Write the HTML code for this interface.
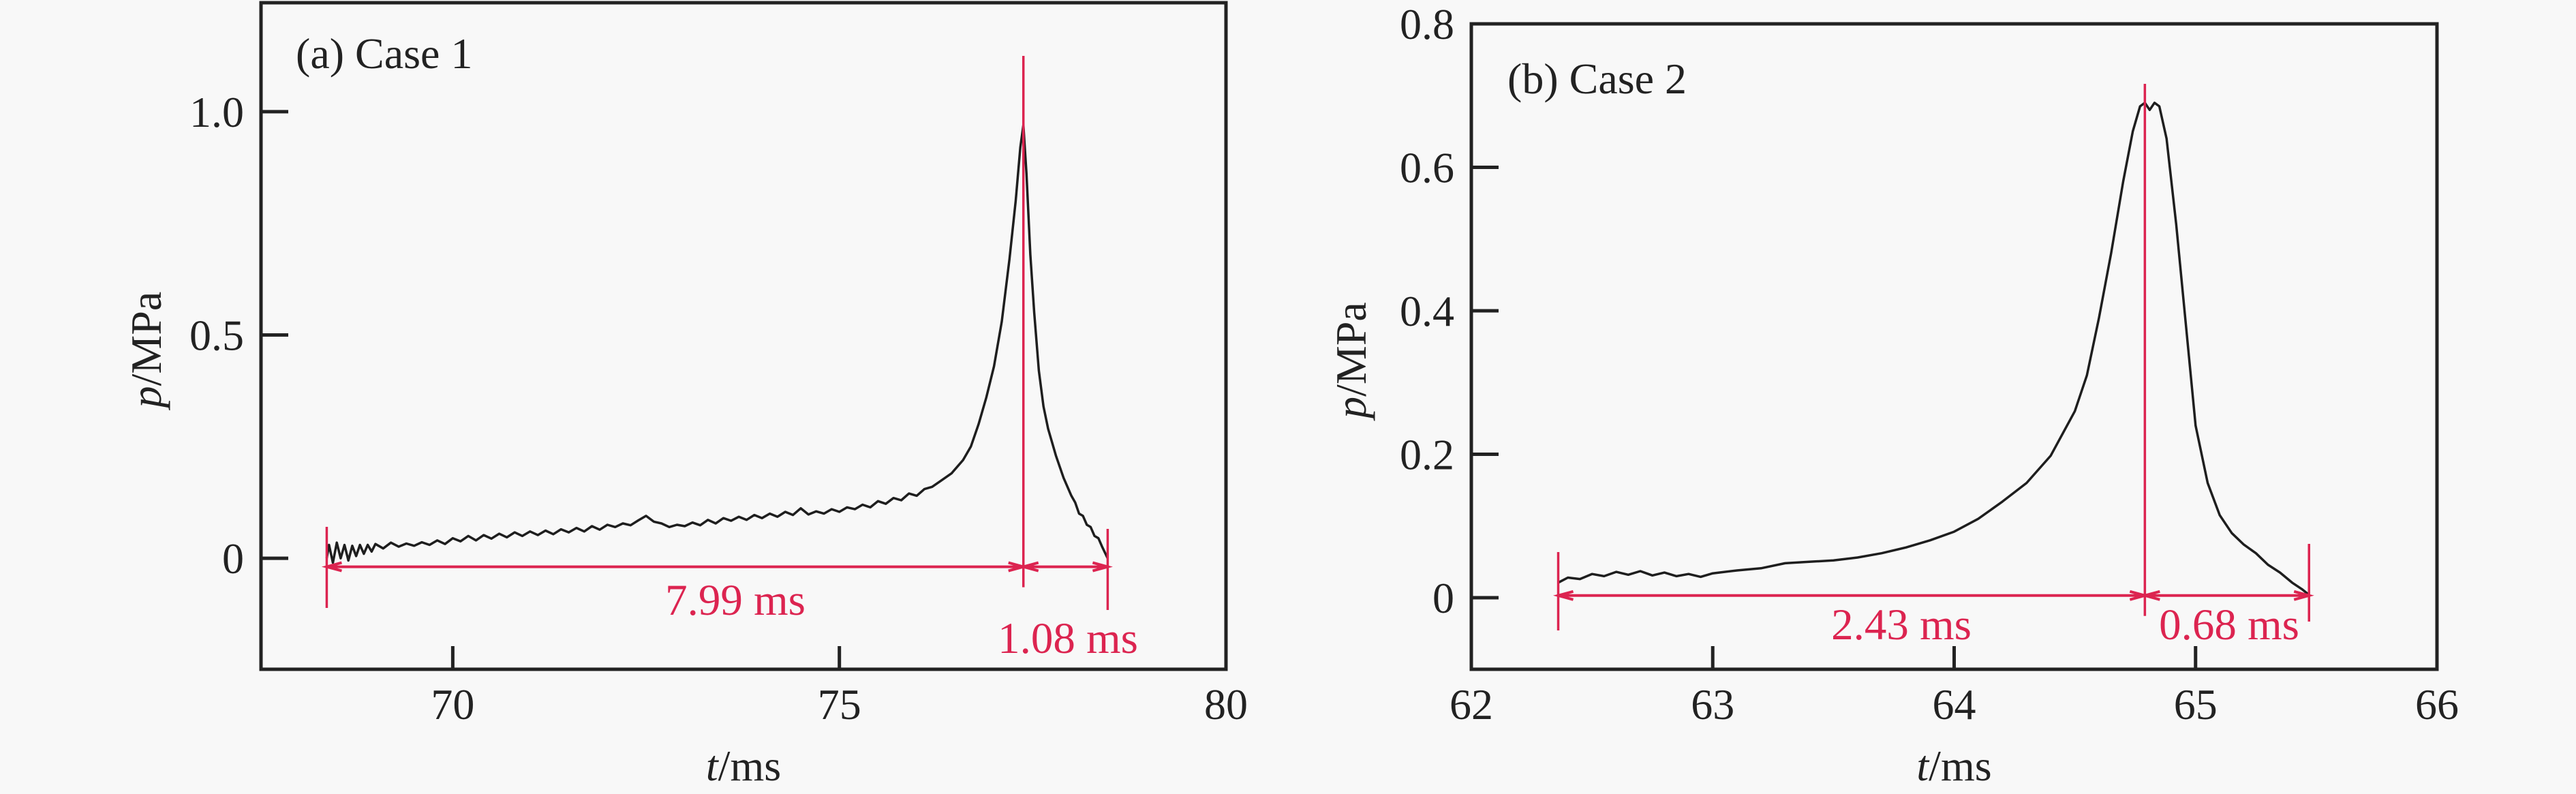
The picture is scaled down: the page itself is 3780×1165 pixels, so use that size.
<!DOCTYPE html>
<html><head><meta charset="utf-8"><style>
html,body{margin:0;padding:0;background:#f8f8f8;}
svg{display:block;}
svg text{font-family:"Liberation Serif","Times New Roman",serif;}
</style></head><body>
<svg id="chart" width="3780" height="1165" viewBox="0 0 3780 1165" xmlns="http://www.w3.org/2000/svg">
<rect width="3780" height="1165" fill="#f8f8f8"/>
</svg>
<script>
// Panel (a) data
const aTime = [68.37,68.4,68.45,68.5,68.55,68.6,68.65,68.7,68.75,68.8,68.85,68.9,68.95,69.0,
69.1,69.2,69.3,69.4,69.5,69.6,69.7,69.8,69.9,70.0,
70.1,70.2,70.3,70.4,70.5,70.6,70.7,70.8,70.9,71.0,
71.1,71.2,71.3,71.4,71.5,71.6,71.7,71.8,71.9,72.0,
72.1,72.2,72.3,72.4,72.5,72.6,72.7,72.8,72.9,73.0,
73.1,73.2,73.3,73.4,73.5,73.6,73.7,73.8,73.9,74.0,
74.1,74.2,74.3,74.4,74.5,74.6,74.7,74.8,74.9,75.0,
75.1,75.2,75.3,75.4,75.5,75.6,75.7,75.8,75.9,76.0,
76.1,76.2,76.3,76.45,76.6,76.7,76.8,76.9,77.0,77.1,77.2,77.28,77.34,77.38,77.42,77.47,77.52,77.58,77.64,77.7,77.8,77.9,78.0,78.05,78.1,78.15,78.2,78.25,78.3,78.35,78.4,78.47];
const aPress = [0.0,0.03,-0.01,0.035,0.0,0.03,-0.005,0.028,0.005,0.03,0.01,0.03,0.015,0.032,
0.022,0.035,0.026,0.033,0.028,0.036,0.03,0.04,0.032,0.045,
0.038,0.05,0.04,0.052,0.044,0.055,0.047,0.058,0.05,0.06,
0.052,0.062,0.054,0.065,0.058,0.068,0.06,0.072,0.064,0.075,
0.07,0.078,0.074,0.085,0.095,0.082,0.078,0.07,0.075,0.072,
0.08,0.074,0.086,0.078,0.09,0.084,0.093,0.086,0.097,0.09,
0.1,0.093,0.104,0.097,0.112,0.098,0.105,0.1,0.11,0.104,
0.114,0.11,0.12,0.114,0.128,0.122,0.135,0.13,0.145,0.14,
0.155,0.16,0.172,0.19,0.22,0.25,0.3,0.36,0.43,0.53,0.67,0.8,0.92,0.97,0.86,0.68,0.55,0.42,0.34,0.29,0.23,0.18,0.14,0.125,0.1,0.095,0.075,0.07,0.05,0.045,0.025,0.0];
const aXTicks = [70,75,80];
const aYTicks = [0,0.5,1.0];
const aYTickLabels = ["0","0.5","1.0"];
const aMarks = [68.37,77.38,78.47];
const aSpans = ["7.99 ms","1.08 ms"];
// Panel (b) data
const bTime = [62.36,62.4,62.45,62.5,62.55,62.6,62.65,62.7,62.75,62.8,62.85,62.9,62.95,63.0,63.1,63.2,63.3,63.4,63.5,63.6,63.7,63.8,63.9,64.0,64.1,64.2,64.3,64.4,64.5,64.55,64.6,64.65,64.7,64.74,64.77,64.79,64.81,64.83,64.85,64.88,64.92,64.96,65.0,65.05,65.1,65.15,65.2,65.25,65.3,65.35,65.4,65.44,65.47];
const bPress = [0.021,0.028,0.026,0.033,0.03,0.036,0.032,0.037,0.031,0.035,0.03,0.033,0.029,0.034,0.038,0.041,0.048,0.05,0.052,0.056,0.062,0.07,0.08,0.092,0.11,0.134,0.16,0.198,0.26,0.31,0.39,0.48,0.58,0.65,0.685,0.69,0.68,0.69,0.685,0.64,0.52,0.38,0.24,0.16,0.115,0.09,0.074,0.062,0.046,0.035,0.021,0.012,0.004];
const bXTicks = [62,63,64,65,66];
const bYTicks = [0,0.2,0.4,0.6,0.8];
const bYTickLabels = ["0","0.2","0.4","0.6","0.8"];
const bMarks = [62.36,64.79,65.47];
const bSpans = ["2.43 ms","0.68 ms"];

const NS="http://www.w3.org/2000/svg";
const svg=document.getElementById('chart');
const RED="#dc2450";
const FF='"Liberation Serif",serif';
function mk(tag,attrs,parent){const e=document.createElementNS(NS,tag);for(const k in attrs)e.setAttribute(k,attrs[k]);if(tag==='text')e.setAttribute('font-family',FF);(parent||svg).appendChild(e);return e;}

function panel(cfg){
  const g=mk('g',{});
  
  
  const sx=v=>cfg.x0+(v-cfg.xmin)/(cfg.xmax-cfg.xmin)*(cfg.x1-cfg.x0);
  const sy=v=>cfg.y1-(v-cfg.ymin)/(cfg.ymax-cfg.ymin)*(cfg.y1-cfg.y0);
  const fr=mk('rect',{x:cfg.x0,y:cfg.y0,width:cfg.x1-cfg.x0,height:cfg.y1-cfg.y0,fill:'none',stroke:'#222','stroke-width':5},g);
  
  
  cfg.xticks.forEach(v=>{
    const t=mk('line',{x1:sx(v),x2:sx(v),y1:cfg.y1,y2:cfg.y1-34,stroke:'#222','stroke-width':5},g);
    
    
    const l=mk('text',{x:sx(v),y:1055,'font-size':64,'text-anchor':'middle',fill:'#222'},g);
    l.textContent=String(v);
    
    
  });
  cfg.yticks.forEach((v,i)=>{
    const t=mk('line',{x1:cfg.x0,x2:cfg.x0+40,y1:sy(v),y2:sy(v),stroke:'#222','stroke-width':5},g);
    
    
    const l=mk('text',{x:cfg.x0-25,y:sy(v)+22,'font-size':64,'text-anchor':'end',fill:'#222'},g);
    l.textContent=cfg.ylabels[i];
    
    
  });
  const xt=mk('text',{x:(cfg.x0+cfg.x1)/2,y:1145,'font-size':64,'text-anchor':'middle',fill:'#222'},g);
  xt.innerHTML='<tspan font-style="italic">t</tspan>/ms';
  
  
  const yt=mk('text',{transform:`translate(${cfg.ylx},${(cfg.y0+cfg.y1)/2+20}) rotate(-90)`,'font-size':64,'text-anchor':'middle',fill:'#222'},g);
  yt.innerHTML='<tspan font-style="italic">p</tspan>/MPa';
  
  
  const tt=mk('text',{x:cfg.tx,y:cfg.ty,'font-size':64,fill:'#222'},g);
  tt.textContent=cfg.title;
  
  
  const d=cfg.t.map((v,i)=>(i?'L':'M')+sx(v).toFixed(1)+' '+sy(cfg.p[i]).toFixed(1)).join(' ');
  const c=mk('path',{d:d,fill:'none',stroke:'#1e1e1e','stroke-width':3.5,'stroke-linejoin':'round'},g);
  
  
  const m=cfg.marks;
  const ay=sy(cfg.arrowP);
  const vl=[[cfg.v0a,cfg.v0b],[cfg.v1a,ay+30],[cfg.v2a,cfg.v2b]];
  m.forEach((v,i)=>{
    const l=mk('line',{x1:sx(v),x2:sx(v),y1:vl[i][0],y2:vl[i][1],stroke:RED,'stroke-width':3.5},g);
    
    
  });
  for(let i=0;i<2;i++){
    const xa=sx(m[i]),xb=sx(m[i+1]);
    const a=mk('path',{d:`M${xa} ${ay} L${xb} ${ay} M${xa+22} ${ay-6} L${xa} ${ay} L${xa+22} ${ay+6} M${xb-22} ${ay-6} L${xb} ${ay} L${xb-22} ${ay+6}`,fill:'none',stroke:RED,'stroke-width':4},g);
    
    
    const lb=mk('text',{x:cfg.spanX[i],y:cfg.spanY[i],'font-size':65,'text-anchor':'middle',fill:RED},g);
    lb.textContent=cfg.spans[i];
    
    
  }
}
panel({id:'panel-a',x0:383,x1:1799,y0:4,y1:982,xmin:67.52,xmax:80,ymin:-0.2485,ymax:1.2439,
  t:aTime,p:aPress,xticks:aXTicks,yticks:aYTicks,ylabels:aYTickLabels,marks:aMarks,spans:aSpans,
  arrowP:-0.019,v0a:773,v0b:892,v1a:82,v2a:776,v2b:895,spanX:[1079,1567],spanY:[902,958],
  ylx:236,tx:434,ty:100,title:'(a) Case 1'});
panel({id:'panel-b',x0:2159,x1:3576,y0:35,y1:982,xmin:62,xmax:66,ymin:-0.0998,ymax:0.8,
  t:bTime,p:bPress,xticks:bXTicks,yticks:bYTicks,ylabels:bYTickLabels,marks:bMarks,spans:bSpans,
  arrowP:0.003,v0a:810,v0b:925,v1a:123,v2a:798,v2b:912,spanX:[2790,3271],spanY:[938,938],
  ylx:2004,tx:2212,ty:137,title:'(b) Case 2'});
</script>
</body></html>
